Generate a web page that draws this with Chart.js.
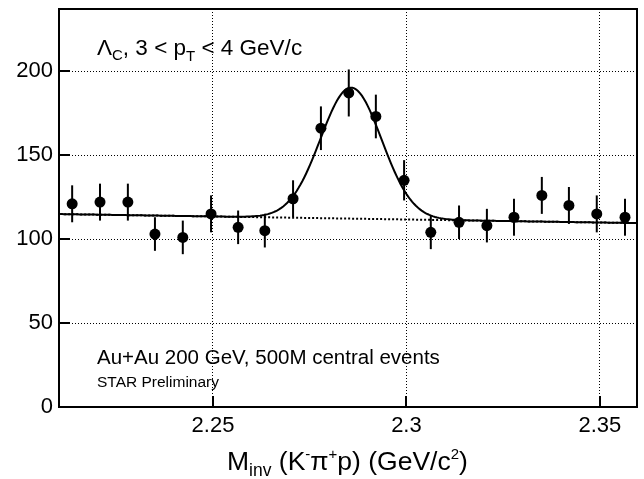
<!DOCTYPE html>
<html>
<head>
<meta charset="utf-8">
<script src="https://cdn.jsdelivr.net/npm/chart.js@4"></script>
<style>
  html, body { margin: 0; padding: 0; background: #fff; }
  #wrap { width: 644px; height: 479px; }
</style>
</head>
<body>
<div id="wrap"><canvas id="c"></canvas></div>
<script>
// invariant mass bin centres (GeV/c^2) and counts
const massBins = [2.2136, 2.2208, 2.2280, 2.2350, 2.2422, 2.2495, 2.2565, 2.2634, 2.2707, 2.2779, 2.2851,
                  2.2921, 2.2994, 2.3063, 2.3136, 2.3208, 2.3278, 2.3350, 2.3420, 2.3492, 2.3565];
const counts = [121, 122, 122, 103, 101, 115, 107, 105, 124, 166, 187, 173, 135, 104, 110, 108, 113, 126, 120, 115, 113];
const countErrors = [11, 11, 11, 10, 10, 11, 10, 10, 11, 13, 14, 13, 12, 10, 10, 10, 11, 11, 11, 11, 11];

const xTicks = [2.25, 2.3, 2.35];
const yTicks = [0, 50, 100, 150, 200];

// fit: linear background + gaussian
const fitBackground = [114.9, -36];      // value at 2.21, slope per GeV
const fitPeak = [78, 2.2857, 0.0079];    // amplitude, mean, sigma
const fitRange = [2.2105, 2.3596];

const FONT = "'Liberation Sans', Arial, Helvetica, sans-serif";

function bg(m) { return fitBackground[0] + fitBackground[1] * (m - 2.21); }
function fit(m) {
  const d = (m - fitPeak[1]) / fitPeak[2];
  return bg(m) + fitPeak[0] * Math.exp(-0.5 * d * d);
}

const fitPts = [];
const bgPts = [];
for (let i = 0; i <= 300; i++) {
  const m = fitRange[0] + (fitRange[1] - fitRange[0]) * i / 300;
  fitPts.push({ x: m, y: fit(m) });
}
bgPts.push({ x: fitRange[0], y: bg(fitRange[0]) }, { x: fitRange[1], y: bg(fitRange[1]) });

// text with sub/superscripts: parts = [text, size, dy]
function drawRich(ctx, x, y, parts) {
  ctx.textAlign = 'left';
  ctx.textBaseline = 'alphabetic';
  for (const [t, size, dy] of parts) {
    ctx.font = size + 'px ' + FONT;
    ctx.fillText(t, x, y + dy);
    x += ctx.measureText(t).width;
  }
}

const decorations = {
  id: 'decorations',
  beforeDatasetsDraw(chart) {
    const { ctx, scales: { x, y } } = chart;
    ctx.save();
    ctx.strokeStyle = '#000';
    ctx.lineWidth = 2;
    massBins.forEach((m, i) => {
      const px = x.getPixelForValue(m);
      ctx.beginPath();
      ctx.moveTo(px, y.getPixelForValue(counts[i] - countErrors[i]));
      ctx.lineTo(px, y.getPixelForValue(counts[i] + countErrors[i]));
      ctx.stroke();
    });
    ctx.restore();
  },
  afterDraw(chart) {
    const { ctx, chartArea: a, scales: { x, y } } = chart;
    ctx.save();
    ctx.strokeStyle = '#000';
    ctx.lineWidth = 2;
    // top and right frame
    ctx.beginPath();
    ctx.moveTo(a.left, a.top);
    ctx.lineTo(a.right, a.top);
    ctx.lineTo(a.right, a.bottom);
    ctx.stroke();
    // inner ticks
    xTicks.forEach(v => {
      const px = Math.round(x.getPixelForValue(v));
      ctx.beginPath();
      ctx.moveTo(px, a.bottom);
      ctx.lineTo(px, a.bottom - 11);
      ctx.stroke();
    });
    yTicks.forEach(v => {
      const py = Math.round(y.getPixelForValue(v));
      ctx.beginPath();
      ctx.moveTo(a.left, py);
      ctx.lineTo(a.left + 11, py);
      ctx.stroke();
    });

    ctx.fillStyle = '#000';
    drawRich(ctx, 97, 55, [['\u039B', 22.5, 0], ['C', 15, 5], [', 3 < p', 22.5, 0], ['T', 15, 6], [' < 4 GeV/c', 22.5, 0]]);
    drawRich(ctx, 97, 364, [['Au+Au 200 GeV, 500M central events', 20.5, 0]]);
    drawRich(ctx, 97, 387, [['STAR Preliminary', 15.5, 0]]);
    drawRich(ctx, 227, 470, [['M', 26.5, 0], ['inv', 17.5, 6], [' (K', 26.5, 0], ['-', 15, -11], ['\u03C0', 26.5, 0],
                             ['+', 15, -11], ['p) (GeV/c', 26.5, 0], ['2', 15, -11], [')', 26.5, 0]]);
    ctx.restore();
  }
};

new Chart(document.getElementById('c'), {
  type: 'scatter',
  data: {
    datasets: [
      {
        label: 'data',
        data: massBins.map((m, i) => ({ x: m, y: counts[i] })),
        backgroundColor: '#000',
        borderColor: '#000',
        pointRadius: 5.5,
        pointBorderWidth: 0,
        order: 0
      },
      {
        label: 'fit',
        type: 'line',
        data: fitPts,
        borderColor: '#000',
        borderWidth: 2,
        pointRadius: 0,
        tension: 0,
        order: 1
      },
      {
        label: 'background',
        type: 'line',
        data: bgPts,
        borderColor: '#000',
        borderWidth: 2,
        borderDash: [2, 2],
        pointRadius: 0,
        order: 2
      }
    ]
  },
  options: {
    responsive: true,
    maintainAspectRatio: false,
    animation: false,
    events: [],
    layout: { padding: { top: 9, right: 7, left: 0, bottom: 0 } },
    plugins: { legend: { display: false }, tooltip: { enabled: false } },
    scales: {
      x: {
        type: 'linear',
        min: 2.2102,
        max: 2.3596,
        afterBuildTicks: s => { s.ticks = xTicks.map(v => ({ value: v })); },
        afterFit: s => { s.height = 72; s.paddingLeft = 0; s.paddingRight = 0; },
        grid: { color: '#000', lineWidth: 1, drawTicks: false },
        border: { color: '#000', width: 2, dash: [1, 2] },
        ticks: { color: '#000', padding: 6, font: { family: FONT, size: 22 }, callback: v => String(v), maxRotation: 0 }
      },
      y: {
        min: 0,
        max: 237,
        afterBuildTicks: s => { s.ticks = yTicks.map(v => ({ value: v })); },
        afterFit: s => { s.width = 59; s.paddingTop = 0; s.paddingBottom = 0; },
        grid: { color: '#000', lineWidth: 1, drawTicks: false },
        border: { color: '#000', width: 2, dash: [1, 2] },
        ticks: { color: '#000', padding: 6, font: { family: FONT, size: 22 } }
      }
    }
  },
  plugins: [decorations]
});
</script>
</body>
</html>
